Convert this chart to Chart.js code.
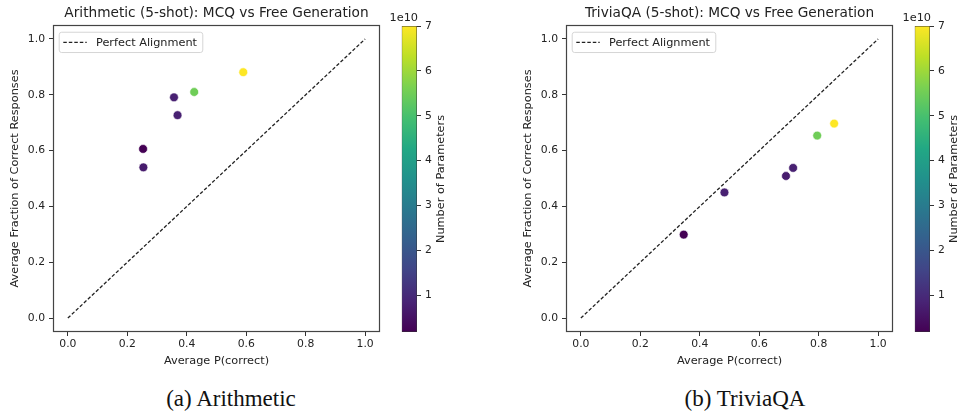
<!DOCTYPE html>
<html lang="en">
<head>
  <meta charset="UTF-8" />
  <title>MCQ vs Free Generation</title>
  <script src="https://cdn.jsdelivr.net/npm/chart.js"></script>
  <style>
    body {
      margin: 0;
      background: #fff;
      width: 961px;
      height: 413px;
      overflow: hidden;
      position: relative;
      font-family: 'DejaVu Sans', sans-serif;
    }
    canvas { position: absolute; top: 0; }
    .caption {
      position: absolute;
      top: 386px;
      width: 300px;
      text-align: center;
      font-family: 'Liberation Serif', 'Times New Roman', serif;
      font-size: 23px;
      color: #111;
      white-space: nowrap;
    }
  </style>
</head>
<body>
  <canvas id="arithChart" width="385" height="372" style="left:0px"></canvas>
  <canvas id="arithBar" width="81" height="380" style="left:376px"></canvas>
  <canvas id="triviaChart" width="385" height="372" style="left:513px"></canvas>
  <canvas id="triviaBar" width="81" height="380" style="left:889px"></canvas>
  <div class="caption" style="left:81px">(a) Arithmetic</div>
  <div class="caption" style="left:595px">(b) TriviaQA</div>

  <script>
    // values
    const arithP = [0.253, 0.254, 0.357, 0.369, 0.425, 0.590];
    const arithFrac = [0.606, 0.540, 0.791, 0.727, 0.810, 0.881];
    const arithParams = [1.8e9, 7e9, 8e9, 8e9, 5.5e10, 7e10];

    const triviaP = [0.346, 0.483, 0.690, 0.714, 0.795, 0.852];
    const triviaFrac = [0.299, 0.450, 0.509, 0.538, 0.654, 0.697];
    const triviaParams = [1.8e9, 8e9, 7e9, 8e9, 5.5e10, 7e10];

    const diagX = [0, 1];
    const diagY = [0, 1];
    const axisTicks = [0, 0.2, 0.4, 0.6, 0.8, 1.0];
    const cbTicks = [1e10, 2e10, 3e10, 4e10, 5e10, 6e10, 7e10];

    const viridis = ['#440154', '#482475', '#414487', '#355f8d', '#2a788e', '#21918c',
                     '#22a884', '#44bf70', '#7ad151', '#bddf26', '#fde725'];

    const TXT = '#222';
    const LBL = 11.3;

    function hexToRgb(h) {
      return [1, 3, 5].map(i => parseInt(h.substr(i, 2), 16));
    }

    function viridisAt(t) {
      t = Math.max(0, Math.min(1, t));
      const pos = t * (viridis.length - 1);
      const i = Math.min(Math.floor(pos), viridis.length - 2);
      const f = pos - i;
      const a = hexToRgb(viridis[i]), b = hexToRgb(viridis[i + 1]);
      const c = a.map((v, k) => Math.round(v + (b[k] - v) * f));
      return `rgb(${c[0]},${c[1]},${c[2]})`;
    }

    // frame + legend box drawn inside the plot area
    const framePlugin = {
      id: 'frame',
      afterDraw(chart) {
        const { ctx, chartArea: ca } = chart;
        ctx.save();
        ctx.strokeStyle = '#444';
        ctx.lineWidth = 1.2;
        ctx.strokeRect(Math.round(ca.left) + 0.5, Math.round(ca.top) + 0.5,
          Math.round(ca.right - ca.left) - 1, Math.round(ca.bottom - ca.top) - 1);

        const ds = chart.data.datasets[0];
        const x = ca.left + 5.7, y = ca.top + 6.7, w = 143.6, h = 20.3;
        ctx.beginPath();
        ctx.roundRect(x + 0.5, y + 0.5, w, h, 2.5);
        ctx.fillStyle = 'rgba(255,255,255,0.8)';
        ctx.fill();
        ctx.strokeStyle = '#d5d5d5';
        ctx.lineWidth = 1;
        ctx.stroke();

        ctx.beginPath();
        ctx.setLineDash(ds.borderDash);
        ctx.strokeStyle = ds.borderColor;
        ctx.lineWidth = ds.borderWidth;
        ctx.moveTo(x + 4.6, y + h / 2 + 0.5);
        ctx.lineTo(x + 28, y + h / 2 + 0.5);
        ctx.stroke();
        ctx.setLineDash([]);

        ctx.fillStyle = TXT;
        ctx.font = `${LBL}px "DejaVu Sans"`;
        ctx.textBaseline = 'middle';
        ctx.fillText(ds.label, x + 37.3, y + h / 2 + 1);
        ctx.restore();
      }
    };

    // "1e10" offset text and the rotated colorbar label
    const cbLabelPlugin = {
      id: 'cbLabel',
      afterDraw(chart) {
        const { ctx, chartArea: ca } = chart;
        ctx.save();
        ctx.fillStyle = TXT;
        ctx.font = `${LBL}px "DejaVu Sans"`;
        ctx.textAlign = 'right';
        ctx.textBaseline = 'bottom';
        ctx.fillText('1e10', ca.right + 1, ca.top - 2);

        ctx.translate(ca.right + 24.5, (ca.top + ca.bottom) / 2);
        ctx.rotate(-Math.PI / 2);
        ctx.textAlign = 'center';
        ctx.textBaseline = 'middle';
        ctx.fillText('Number of Parameters', 0, 0);
        ctx.restore();
      }
    };

    function axisOpts(title, isX) {
      return {
        type: 'linear',
        min: -0.05,
        max: 1.05,
        afterBuildTicks: s => { s.ticks = axisTicks.map(v => ({ value: v })); },
        afterFit: s => {
          if (isX) s.height = 40; else s.width = 48.8;
        },
        ticks: {
          color: TXT,
          font: { family: 'DejaVu Sans', size: 10.8 },
          padding: isX ? 2 : 4,
          callback: v => v.toFixed(1)
        },
        grid: { drawOnChartArea: false, drawTicks: true, tickLength: 4, color: '#333' },
        border: { display: false },
        title: {
          display: true,
          text: title,
          color: TXT,
          font: { family: 'DejaVu Sans', size: LBL },
          padding: 4
        }
      };
    }

    function makeScatter(id, title, xs, ys, params) {
      const cMin = Math.min(...params), cMax = Math.max(...params);
      const pts = xs.map((x, i) => ({ x, y: ys[i] }));
      return new Chart(document.getElementById(id), {
        data: {
          datasets: [
            {
              type: 'line',
              label: 'Perfect Alignment',
              data: diagX.map((x, i) => ({ x, y: diagY[i] })),
              borderColor: '#222',
              borderWidth: 1.3,
              borderDash: [3.5, 2],
              pointRadius: 0,
              order: 2
            },
            {
              type: 'scatter',
              label: 'models',
              data: pts,
              backgroundColor: params.map(p => viridisAt((p - cMin) / (cMax - cMin))),
              borderColor: '#fff',
              borderWidth: 0.6,
              pointRadius: 4.4,
              order: 1
            }
          ]
        },
        options: {
          responsive: false,
          animation: false,
          layout: { padding: { left: 4.2, right: 4, top: 0, bottom: 0 } },
          scales: {
            x: axisOpts('Average P(correct)', true),
            y: axisOpts('Average Fraction of Correct Responses', false)
          },
          plugins: {
            legend: { display: false },
            tooltip: { enabled: false },
            title: {
              display: true,
              text: title,
              fullSize: false,
              color: TXT,
              font: { family: 'DejaVu Sans', size: 13.7, weight: 'normal' },
              padding: { top: 5, bottom: 3.6 }
            }
          }
        },
        plugins: [framePlugin]
      });
    }

    function makeColorbar(id, params) {
      const cMin = Math.min(...params), cMax = Math.max(...params);
      return new Chart(document.getElementById(id), {
        type: 'bar',
        data: {
          labels: ['cb'],
          datasets: [{
            data: [[cMin, cMax]],
            backgroundColor: c => {
              const ca = c.chart.chartArea;
              if (!ca) return viridis[0];
              const g = c.chart.ctx.createLinearGradient(0, ca.bottom, 0, ca.top);
              viridis.forEach((col, i) => g.addColorStop(i / (viridis.length - 1), col));
              return g;
            },
            borderColor: '#333',
            borderWidth: 0.8,
            borderSkipped: false,
            barPercentage: 1,
            categoryPercentage: 1
          }]
        },
        options: {
          responsive: false,
          animation: false,
          layout: { padding: { left: 25.7, right: 0, top: 26, bottom: 48 } },
          scales: {
            x: { display: false },
            y: {
              position: 'right',
              min: cMin,
              max: cMax,
              afterBuildTicks: s => { s.ticks = cbTicks.map(v => ({ value: v })); },
              afterFit: s => { s.width = 40; },
              ticks: {
                color: TXT,
                font: { family: 'DejaVu Sans', size: 10.8 },
                padding: 4,
                callback: v => String(Math.round(v / 1e10))
              },
              grid: { drawOnChartArea: false, drawTicks: true, tickLength: 4, color: '#333' },
              border: { display: false }
            }
          },
          plugins: { legend: { display: false }, tooltip: { enabled: false } }
        },
        plugins: [cbLabelPlugin]
      });
    }

    makeScatter('arithChart', 'Arithmetic (5-shot): MCQ vs Free Generation', arithP, arithFrac, arithParams);
    makeColorbar('arithBar', arithParams);
    makeScatter('triviaChart', 'TriviaQA (5-shot): MCQ vs Free Generation', triviaP, triviaFrac, triviaParams);
    makeColorbar('triviaBar', triviaParams);
  </script>
</body>
</html>
